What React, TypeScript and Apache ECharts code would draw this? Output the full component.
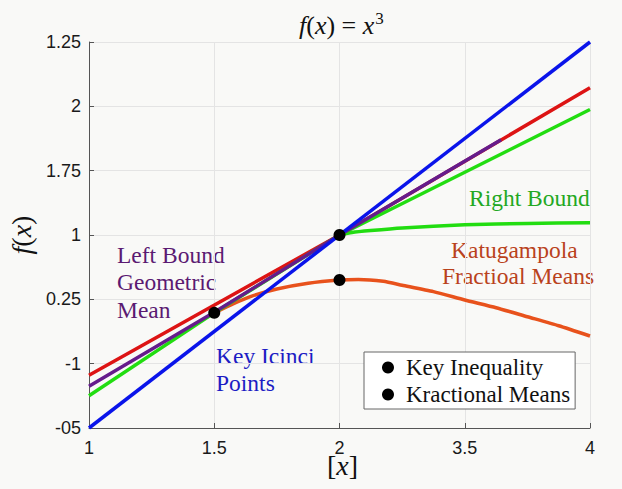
import React, { useEffect, useRef } from "react";
import * as echarts from "echarts";

// Tick labels (as printed on the reference), placed at evenly spaced positions
const xTickLabels = ["1", "1.5", "2", "3.5", "4"];
const yTickLabels = ["-05", "-1", "0.25", "1", "1.75", "2", "1.25"];

// Series values in tick-position units (x: 0..4, y: 0..6)
const keyIciniLine: number[][] = [[0, 0], [4, 6]];
const upperLine: number[][] = [[0, 0.82], [2, 3], [4, 5.29]];
const leftBoundLine: number[][] = [[0, 0.65], [1, 1.8], [2, 3], [3.29, 4.48]];
const greenLine: number[][] = [[0, 0.5], [1, 1.79], [2, 3], [4, 4.95]];
const rightBoundCurve: number[][] = [
  [2, 3], [2.1, 3.04], [2.25, 3.07], [2.5, 3.11], [3, 3.16], [3.5, 3.18], [4, 3.19],
];
const katugampolaCurve: number[][] = [
  [1, 1.79], [1.15, 1.93], [1.3, 2.05], [1.5, 2.16], [1.75, 2.25], [2, 2.3],
  [2.15, 2.31], [2.35, 2.28], [2.5, 2.22], [2.75, 2.12], [3, 1.99], [3.25, 1.87],
  [3.5, 1.73], [3.75, 1.59], [4, 1.43],
];
const keyInequalityPoints: number[][] = [[1, 1.79], [2, 3]];
const fractionalMeansPoints: number[][] = [[2, 2.3]];

const SERIF = "Liberation Serif";
const SANS = "Liberation Sans";

export default function App() {
  const ref = useRef<HTMLDivElement>(null);

  useEffect(() => {
    if (!ref.current) return;
    const chart = echarts.init(ref.current, undefined, { renderer: "svg" });
    const lineBase = (name: string, data: number[][], color: string, smooth: boolean | number = false) => ({
      type: "line" as const,
      name,
      data,
      smooth,
      showSymbol: false,
      symbol: "none",
      lineStyle: { color, width: 3.5 },
      itemStyle: { color },
      z: 2,
    });
    const txt = (text: string, left: number, top: number, fill: string, lh: number) => ({
      type: "text",
      left,
      top,
      style: { text, fontFamily: SERIF, fontSize: 23.5, fill, lineHeight: lh },
    });
    chart.setOption({
      animation: false,
      backgroundColor: "#f9f9f7",
      title: {
        text: "{i|f}{u|(}{i|x}{u|) = }{i|x}{s|3}",
        left: 294,
        top: 5,
        textStyle: {
          fontWeight: "normal",
          rich: {
            i: { fontFamily: SERIF, fontStyle: "italic", fontWeight: "normal", fontSize: 26, color: "#111" },
            u: { fontFamily: SERIF, fontWeight: "normal", fontSize: 26, color: "#111" },
            s: { fontFamily: SERIF, fontWeight: "normal", fontSize: 17, color: "#111", padding: [0, 0, 13, 1] },
          },
        },
      },
      grid: { left: 89, right: 32, top: 42, bottom: 61, containLabel: false, outerBoundsMode: "none" },
      xAxis: {
        type: "value",
        min: 0,
        max: 4,
        interval: 1,
        axisLine: { show: true, lineStyle: { color: "#555", width: 1 } },
        axisTick: { show: true, inside: true, length: 5, lineStyle: { color: "#555" } },
        axisLabel: {
          formatter: (v: number) => xTickLabels[Math.round(v)] ?? "",
          fontFamily: SANS,
          fontSize: 18,
          color: "#1a1a1a",
          margin: 11,
        },
        splitLine: { show: true, lineStyle: { color: "#e4e4e4", width: 1 } },
      },
      yAxis: {
        type: "value",
        min: 0,
        max: 6,
        interval: 1,
        name: "{i|f}{u|(}{i|x}{u|)}",
        nameLocation: "middle",
        nameGap: 52,
        nameTextStyle: {
          rich: {
            i: { fontFamily: SERIF, fontStyle: "italic", fontSize: 28, color: "#111" },
            u: { fontFamily: SERIF, fontSize: 28, color: "#111" },
          },
        },
        axisLine: { show: true, lineStyle: { color: "#555", width: 1 } },
        axisTick: { show: true, inside: true, length: 5, lineStyle: { color: "#555" } },
        axisLabel: {
          formatter: (v: number) => yTickLabels[Math.round(v)] ?? "",
          fontFamily: SANS,
          fontSize: 18,
          color: "#1a1a1a",
          margin: 8,
        },
        splitLine: { show: true, lineStyle: { color: "#e4e4e4", width: 1 } },
      },
      legend: {
        orient: "vertical",
        left: 364,
        top: 352,
        data: ["Key Inequality", "Kractional Means"],
        icon: "circle",
        itemWidth: 12,
        itemHeight: 12,
        itemGap: 4,
        padding: [4, 5, 3, 18],
        borderColor: "#666",
        borderWidth: 1,
        borderRadius: 0,
        backgroundColor: "#ffffff",
        itemStyle: { color: "#000" },
        textStyle: {
          fontFamily: SERIF,
          fontSize: 23,
          color: "#111",
          lineHeight: 20,
          padding: [0, 0, 0, 7],
        },
      },
      graphic: [
        {
          type: "text",
          left: 327,
          top: 451,
          style: {
            text: "{u|[}{i|x}{u|]}",
            rich: {
              i: { fontFamily: SERIF, fontStyle: "italic", fontSize: 28, fill: "#111", color: "#111" },
              u: { fontFamily: SERIF, fontSize: 28, fill: "#111", color: "#111" },
            },
          },
        },
        txt("Left Bound\nGeometric\nMean", 117, 241, "#5b1a72", 27.5),
        txt("Key Icinci\nPoints", 216, 342, "#1c1cc4", 27),
        txt("Right Bound", 469, 184, "#22a822", 27),
        txt("Katugampola", 451, 236, "#b9421c", 27),
        txt("Fractioal Means", 442, 262, "#b9421c", 27),
      ],
      series: [
        lineBase("Katugampola Fractional Means", katugampolaCurve, "#e8521c", 0.2),
        lineBase("Right Bound", rightBoundCurve, "#22dd11", 0.2),
        lineBase("Upper Line", upperLine, "#dd1414"),
        lineBase("Green Line", greenLine, "#22dd11"),
        lineBase("Left Bound Geometric Mean", leftBoundLine, "#651c8c"),
        lineBase("Key Icinci Points", keyIciniLine, "#0a14ea"),
        {
          type: "scatter",
          name: "Key Inequality",
          data: keyInequalityPoints,
          symbol: "circle",
          symbolSize: 12,
          itemStyle: { color: "#000", opacity: 1 },
          z: 5,
        },
        {
          type: "scatter",
          name: "Kractional Means",
          data: fractionalMeansPoints,
          symbol: "circle",
          symbolSize: 12,
          itemStyle: { color: "#000", opacity: 1 },
          z: 5,
        },
      ],
    });
    return () => chart.dispose();
  }, []);

  return (
    <div
      ref={ref}
      style={{ position: "fixed", left: 0, top: 0, width: 622, height: 489 }}
    />
  );
}
